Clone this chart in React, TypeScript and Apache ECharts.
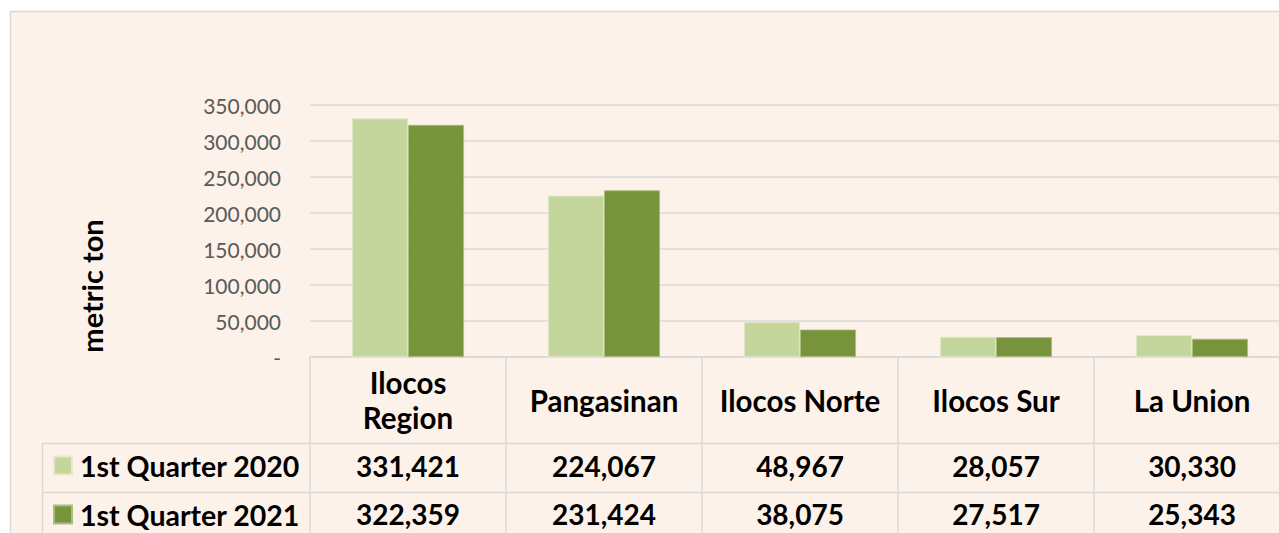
import React, { useEffect, useRef } from "react";
import * as echarts from "echarts";

const categories = ["Ilocos Region", "Pangasinan", "Ilocos Norte", "Ilocos Sur", "La Union"];
const seriesNames = ["1st Quarter 2020", "1st Quarter 2021"];
const q1_2020 = [331421, 224067, 48967, 28057, 30330];
const q1_2021 = [322359, 231424, 38075, 27517, 25343];
const yTicks = { min: 0, max: 350000, interval: 50000 };
const yAxisTitle = "metric ton";

const FONT = "Lato, 'Open Sans', sans-serif";
const LIGHT = "#C4D69C";
const DARK = "#77933C";
const GRID_LINE = "#D9D9D9";
const fmt = (v: number) => v.toLocaleString("en-US");

export default function App() {
  const ref = useRef<HTMLDivElement>(null);
  useEffect(() => {
    if (!ref.current) return;
    const chart = echarts.init(ref.current, null, { renderer: "svg" });
    const textFont = { fontFamily: FONT, fontWeight: "bold" as const, fontSize: 29.5, color: "#000" };
    const numFont = { fontFamily: FONT, fontWeight: "bold" as const, fontSize: 28, color: "#000" };
    const valueAxis = (values: number[], offset: number) => ({
      type: "category",
      data: categories,
      gridIndex: 0,
      position: "bottom",
      offset,
      axisLine: { show: false },
      axisTick: { show: false },
      axisLabel: {
        interval: 0,
        margin: 0,
        verticalAlign: "middle",
        ...numFont,
        formatter: (_v: string, i: number) => fmt(values[i]),
      },
    });
    const legendFor = (name: string, top: number) => ({
      orient: "vertical",
      left: 53,
      top,
      padding: 0,
      itemWidth: 18,
      itemHeight: 18,
      icon: "rect",
      data: [name],
      textStyle: { ...textFont, fontSize: 28.5, padding: [0, 0, 0, 3] },
    });
    chart.setOption({
      animation: false,
      backgroundColor: "transparent",
      graphic: [
        {
          type: "rect",
          z: -10,
          silent: true,
          shape: { x: 10.5, y: 11.5, width: 1400, height: 700 },
          style: { fill: "#FDF2EA", stroke: GRID_LINE, lineWidth: 1.5 },
        },
        {
          type: "line",
          z: 1,
          silent: true,
          shape: { x1: 42, y1: 443.5, x2: 1400, y2: 443.5 },
          style: { stroke: GRID_LINE, lineWidth: 1.5 },
        },
        {
          type: "line",
          z: 1,
          silent: true,
          shape: { x1: 42, y1: 492.5, x2: 1400, y2: 492.5 },
          style: { stroke: GRID_LINE, lineWidth: 1.5 },
        },
        {
          type: "line",
          z: 1,
          silent: true,
          shape: { x1: 42.5, y1: 443, x2: 42.5, y2: 700 },
          style: { stroke: GRID_LINE, lineWidth: 1.5 },
        },
        {
          type: "text",
          z: 5,
          silent: true,
          x: 91,
          y: 286,
          rotation: Math.PI / 2,
          style: {
            text: yAxisTitle,
            fontFamily: FONT,
            fontWeight: "bold",
            fontSize: 29,
            fill: "#000",
            align: "center",
            verticalAlign: "middle",
          },
        },
      ],
      legend: [legendFor(seriesNames[0], 451), legendFor(seriesNames[1], 500)],
      grid: { left: 310, right: 10, top: 105, bottom: 203, containLabel: false },
      xAxis: [
        {
          type: "category",
          data: categories,
          axisLine: { show: true, lineStyle: { color: GRID_LINE, width: 1.5 } },
          axisTick: { show: true, length: 220, lineStyle: { color: GRID_LINE, width: 1.5 } },
          axisLabel: {
            interval: 0,
            margin: 43,
            verticalAlign: "middle",
            lineHeight: 35,
            ...textFont,
            formatter: (v: string) => (v === "Ilocos Region" ? "Ilocos\nRegion" : v),
          },
        },
        valueAxis(q1_2020, 109),
        valueAxis(q1_2021, 157),
      ],
      yAxis: {
        type: "value",
        min: yTicks.min,
        max: yTicks.max,
        interval: yTicks.interval,
        axisLine: { show: false },
        axisTick: { show: false },
        splitLine: { lineStyle: { color: GRID_LINE, width: 1.5 } },
        axisLabel: {
          margin: 29,
          fontFamily: FONT,
          fontSize: 21,
          color: "#595959",
          formatter: (v: number) => (v === 0 ? "-" : fmt(v)),
        },
      },
      series: [
        {
          name: seriesNames[0],
          type: "bar",
          data: q1_2020,
          barWidth: 56,
          barGap: "0%",
          itemStyle: { color: LIGHT, borderColor: "#E2EBCB", borderWidth: 0.8 },
        },
        {
          name: seriesNames[1],
          type: "bar",
          data: q1_2021,
          barWidth: 56,
          barGap: "0%",
          itemStyle: { color: DARK, borderColor: "#A9BE7E", borderWidth: 0.8 },
        },
      ],
    });
    return () => chart.dispose();
  }, []);
  return (
    <div
      style={{
        position: "fixed",
        left: 0,
        top: 0,
        width: 1279,
        height: 533,
        overflow: "hidden",
        background: "#fff",
      }}
    >
      <div ref={ref} style={{ width: 1300, height: 560 }} />
    </div>
  );
}
